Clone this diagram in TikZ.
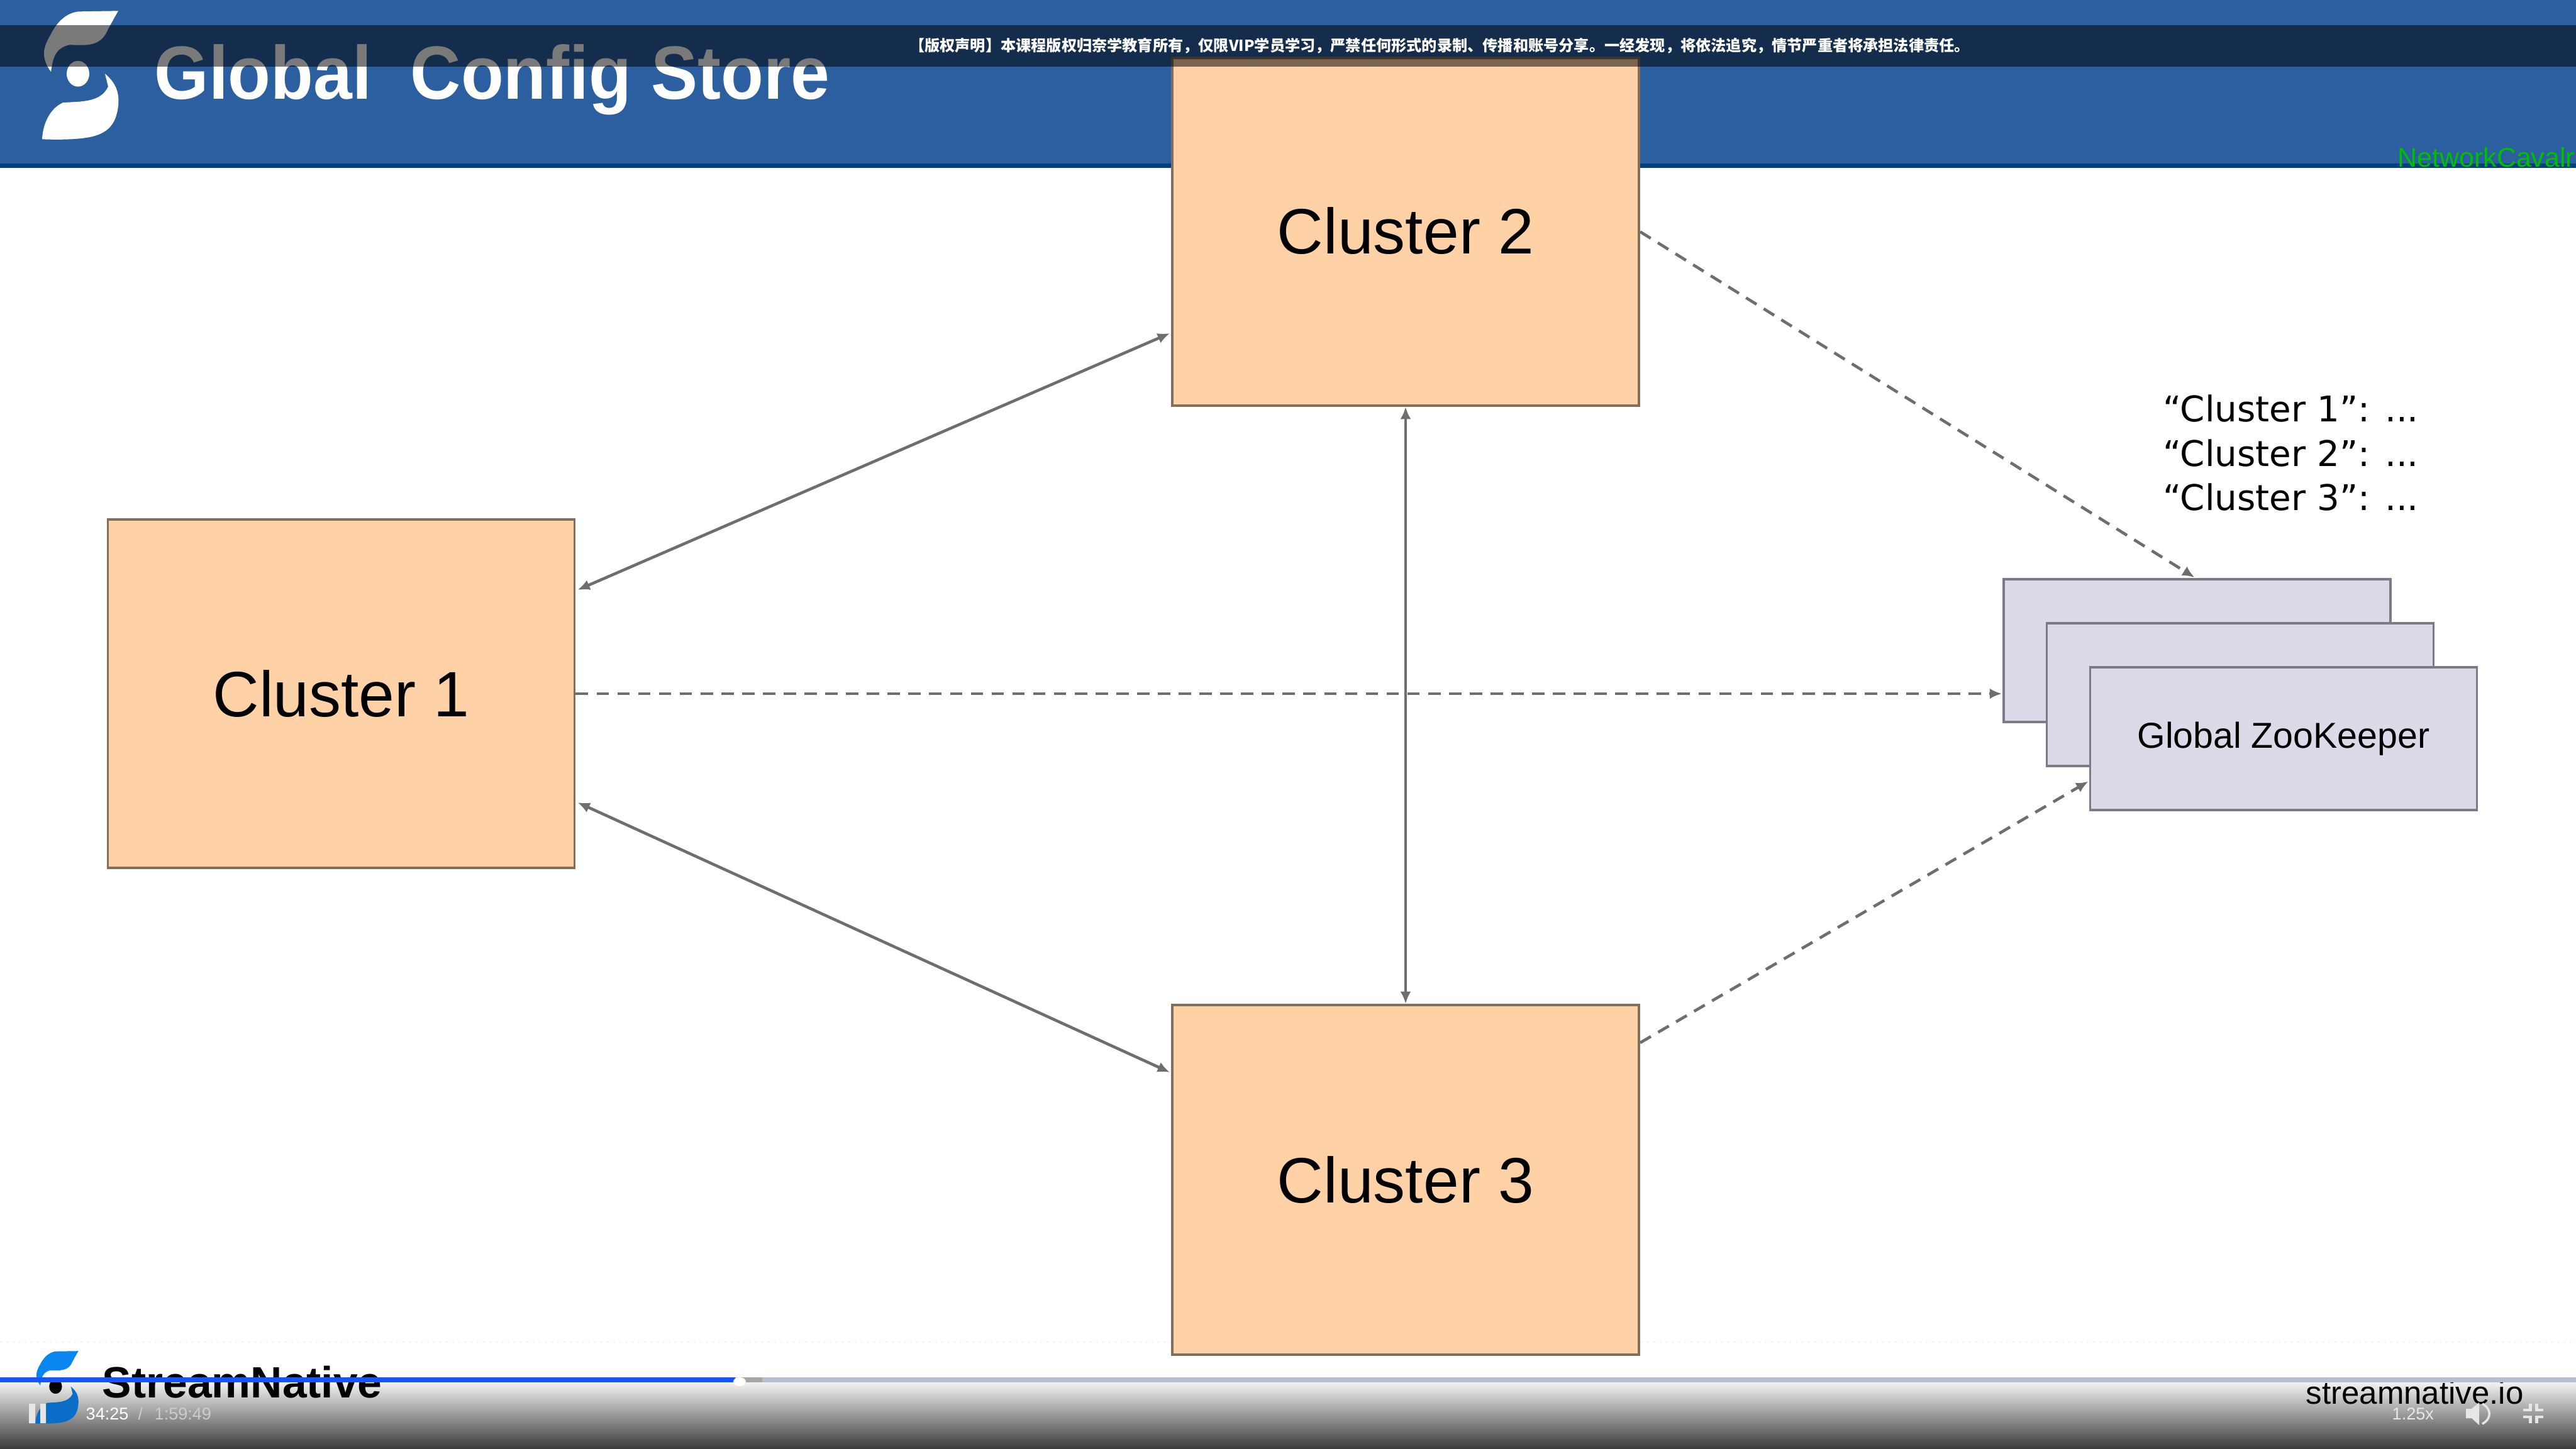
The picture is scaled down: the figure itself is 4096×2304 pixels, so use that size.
\documentclass[tikz,border=0pt]{standalone}
\usepackage{fontspec}
\setmainfont{Liberation Sans}
\newfontfamily\cjkfont{Noto Sans CJK SC}
\newfontfamily\listfont{DejaVu Sans}
\usetikzlibrary{arrows.meta,calc}
\definecolor{bannerblue}{HTML}{2C5F9F}
\definecolor{bannerline}{HTML}{004078}
\definecolor{orangefill}{HTML}{FFD1A6}
\definecolor{orangeedge}{HTML}{7F6F5C}
\definecolor{lilacfill}{HTML}{DDD9E8}
\definecolor{lilacedge}{HTML}{7C7A86}
\definecolor{arrowgrey}{HTML}{6E6E6E}
\definecolor{wmgreen}{HTML}{00BE00}
\definecolor{playblue}{HTML}{1455FF}
\definecolor{trackgrey}{HTML}{B4BFD0}
\definecolor{ctrlwhite}{HTML}{E6E6E6}
\definecolor{logotop}{HTML}{0A86F0}
\definecolor{logolow}{HTML}{0A6EC8}
\newcommand{\snlogo}[6]{%
  \begin{scope}[shift={(#1,#2)},xscale=#3,yscale=#3*1.02]
    \fill[#4] (188,17) -- (125,18) .. controls (105,20) and (90,35) .. (80,55) .. controls (68,75) and (65,90) .. (81,112) .. controls (84,90) and (88,75) .. (110,70) .. controls (135,70) and (160,75) .. (172,45) -- cycle;
    \fill[#5] (124,115) ellipse [x radius=18,y radius=20];
    \fill[#6] (167,115) .. controls (185,130) and (190,145) .. (188,165) .. controls (185,190) and (175,205) .. (150,212) .. controls (130,218) and (90,218) .. (67,217) .. controls (68,195) and (78,170) .. (100,160) .. controls (130,158) and (160,160) .. (172,135) -- cycle;
  \end{scope}}
\tikzset{
  cluster/.style={draw=orangeedge,fill=orangefill,line width=1pt,minimum width=7.42cm,inner sep=0pt,font=\fontsize{29}{34}\selectfont,text=black},
  zkbox/.style={draw=lilacedge,fill=lilacfill,line width=1pt,minimum width=6.15cm,minimum height=2.27cm,inner sep=0pt},
  link/.style={draw=arrowgrey,line width=1.3pt,{Latex[length=5.5pt,width=4.8pt]}-{Latex[length=5.5pt,width=4.8pt]}},
  dashlink/.style={draw=arrowgrey,line width=1.3pt,dash pattern=on 5.6pt off 3.8pt,-{Latex[length=5.5pt,width=4.8pt]}},
  listline/.style={anchor=base west,inner sep=0pt,font=\listfont\fontsize{16}{19}\selectfont,text=black},
  basetext/.style={anchor=base west,inner sep=0pt},
  ctrltext/.style={basetext,font=\fontsize{7.7}{9}\selectfont},
  ctrlicon/.style={draw=ctrlwhite,line width=1.4pt}
}
\begin{document}
\begin{tikzpicture}[x=0.01cm,y=-0.01cm]
\useasboundingbox (0,0) rectangle (4096,2304);
\fill[white] (0,0) rectangle (4096,2304);
% banner
\fill[bannerblue] (0,0) rectangle (4096,260);
\fill[bannerline] (0,260) rectangle (4096,267);
\snlogo{0}{0}{1}{white}{white}{white}
\node[basetext,text=white,font=\bfseries\fontsize{34.1}{40}\selectfont] (title) at (245,158) {\scalebox{.926}[1]{Global\ \ Config Store}};
\node[basetext,text=wmgreen,font=\fontsize{12.2}{14}\selectfont] (wm) at (3812,266) {NetworkCavalr};
% faint line on the slide
\draw[black!6,line width=.8pt,dotted] (0,2134) -- (4096,2134);
% boxes
\node[cluster,minimum height=5.54cm] (c1) at (542.5,1103) {Cluster 1};
\node[cluster,minimum height=5.53cm] (c2) at (2235,368.5) {\raisebox{1pt}{Cluster 2}};
\node[cluster,minimum height=5.56cm] (c3) at (2235,1876) {Cluster 3};
\node[zkbox] (zk1) at (3493.5,1034.5) {};
\node[zkbox] (zk2) at (3562,1104.5) {};
\node[zkbox,font=\fontsize{16.3}{20}\selectfont,text=black] (zk3) at (3631,1174.5) {\raisebox{-1.1pt}{Global ZooKeeper}};
% connectors
\draw[link] ([shift={(3,-165)}]c1.east) -- ([shift={(-2,161.5)}]c2.west);
\draw[link] ([shift={(3,173)}]c1.east) -- ([shift={(-2,-171)}]c3.west);
\draw[link] (c2.south) -- (c3.north);
\draw[dashlink] (c2.east) -- ([shift={(-4,-1)}]zk1.north);
\draw[dashlink] (c1.east) -- ([shift={(-1,0)}]zk1.west |- c1.east);
\draw[dashlink] ([shift={(0,-218)}]c3.east) -- ([shift={(-1,68)}]zk3.west);
% list
\node[listline] (l1) at (3439,671) {“Cluster 1”: ...};
\node[listline] (l2) at (3439,742) {“Cluster 2”: ...};
\node[listline] (l3) at (3439,812) {“Cluster 3”: ...};
% copyright bar
\fill[black,opacity=.52] (0,40) rectangle (4096,106);
\node[inner sep=0pt,text=white,font=\cjkfont\bfseries\fontsize{6.88}{8}\selectfont] (notice) at (2289,73) {【版权声明】本课程版权归奈学教育所有，仅限VIP学员学习，严禁任何形式的录制、传播和账号分享。一经发现，将依法追究，情节严重者将承担法律责任。};
% player bar
\shade[top color=black!5,bottom color=black!77] (0,2198) rectangle (4096,2304);
\snlogo{18.35}{2138.4}{.565}{logotop}{black}{logolow}
\node[basetext,text=black,font=\bfseries\fontsize{19.8}{23}\selectfont] (sn) at (162,2222) {StreamNative};
\node[basetext,text=black,font=\fontsize{14.5}{17}\selectfont] (snio) at (3666,2232) {streamnative.io};
\fill[trackgrey] (0,2190) rectangle (4096,2198);
\fill[black!35] (1176,2190) rectangle (1212,2198);
\fill[playblue] (0,2190) rectangle (1169,2198);
\fill[white] (1176,2197) ellipse [x radius=10,y radius=7];
\fill[ctrlwhite] (46,2232) rectangle (56,2263) (64,2232) rectangle (73,2263);
\node[ctrltext,text=white] (tnow) at (136,2257) {34:25};
\node[ctrltext,text=black!20] (tsep) at (219,2257) {/};
\node[ctrltext,text=black!20] (ttotal) at (245,2257) {1:59:49};
\node[ctrltext,text=ctrlwhite] (speed) at (3803,2257) {1.25x};
\fill[ctrlwhite] (3921,2240) -- (3930,2240) -- (3942,2230) -- (3942,2266) -- (3930,2255) -- (3921,2255) -- cycle;
\draw[ctrlicon,line width=1pt] (3947,2232) .. controls (3962,2240) and (3962,2256) .. (3947,2264);
\draw[ctrlicon] (4023,2232) -- (4023,2242) -- (4012,2242);
\draw[ctrlicon] (4033,2232) -- (4033,2242) -- (4044,2242);
\draw[ctrlicon] (4023,2263) -- (4023,2253) -- (4012,2253);
\draw[ctrlicon] (4033,2263) -- (4033,2253) -- (4044,2253);
\end{tikzpicture}
\end{document}
